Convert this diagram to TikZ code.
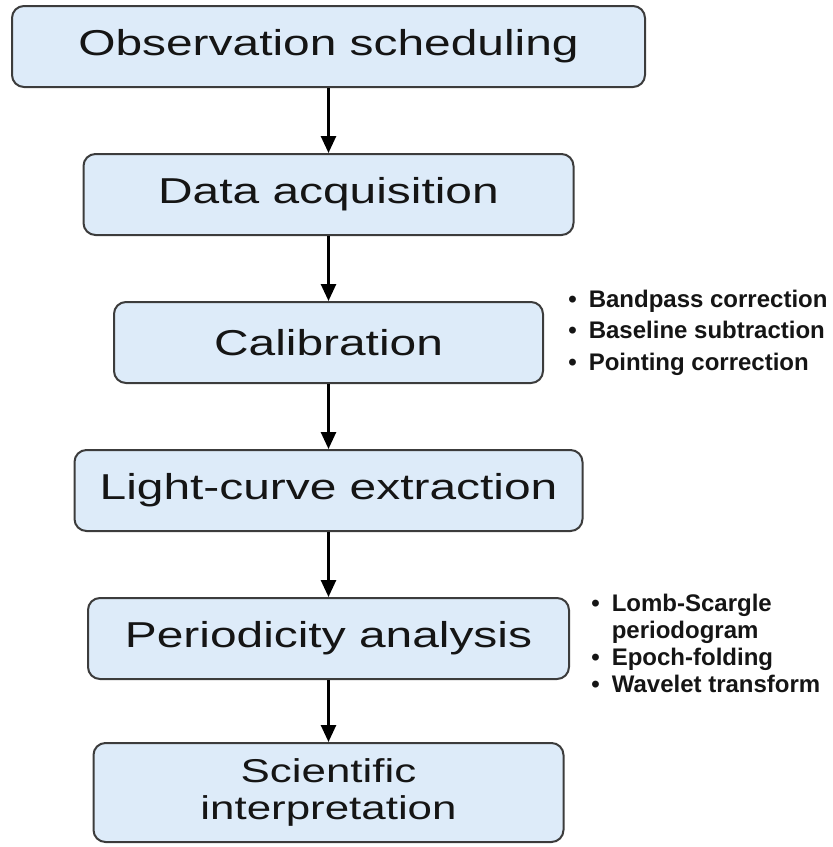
\documentclass[tikz,border=0pt]{standalone}
\usepackage{fontspec}
\setmainfont{Liberation Sans}[FakeStretch=1.33]
\newfontfamily\notefont{Liberation Sans}
\usetikzlibrary{arrows.meta, positioning}
\definecolor{boxline}{HTML}{3C3C3C}
\definecolor{boxfill}{HTML}{DDEBF9}
\definecolor{ink}{HTML}{151515}

\begin{document}
\begin{tikzpicture}[node distance=32.5pt, >={Triangle[width=7.5pt,length=8.5pt]}]
  \tikzstyle{stage}=[rectangle, rounded corners=6pt, line width=1pt,
                     draw=boxline, fill=boxfill, minimum height=40.5pt,
                     text=ink, font=\fontsize{18}{21}\selectfont,
                     align=center, inner sep=0pt]
  \tikzstyle{notes}=[inner sep=0pt, text=ink,
                     font=\notefont\bfseries\fontsize{12}{15.75}\selectfont]
  \tikzstyle{arr}=[->, line width=1.3pt, color=black]

  \useasboundingbox (0,0) rectangle (416.5pt,-423.5pt);

  \node[stage, minimum width=316.5pt] (obs) at (164.25pt,-23.25pt) {Observation scheduling};
  \node[stage, minimum width=245pt, below=of obs] (acq) {Data acquisition};
  \node[stage, minimum width=214.5pt, below=of acq] (cal) {Calibration};
  \node[stage, minimum width=254pt, below=of cal] (lc) {Light-curve extraction};
  \node[stage, minimum width=240.5pt, below=of lc] (per) {Periodicity analysis};
  \node[stage, minimum width=235pt, minimum height=49.5pt,
        font=\fontsize{16.5}{18.5}\selectfont, below=31pt of per] (sci) {Scientific\\interpretation};

  \node[notes, right=12pt of cal, yshift=5pt] (calnotes) {%
    \begin{tabular}{@{}c@{\hspace{6pt}}l@{}}
      \textbullet & Bandpass correction\\
      \textbullet & Baseline subtraction\\
      \textbullet & Pointing correction
    \end{tabular}};
  \node[notes, right=10.5pt of per, yshift=-4pt] (pernotes) {%
    \fontsize{12}{13.5}\selectfont
    \begin{tabular}{@{}c@{\hspace{6pt}}l@{}}
      \textbullet & Lomb-Scargle\\
                  & periodogram\\
      \textbullet & Epoch-folding\\
      \textbullet & Wavelet transform
    \end{tabular}};

  \draw[arr](obs)--(acq);
  \draw[arr](acq)--(cal);
  \draw[arr](cal)--(lc);
  \draw[arr](lc)--(per);
  \draw[arr](per)--(sci);
\end{tikzpicture}
\end{document}
